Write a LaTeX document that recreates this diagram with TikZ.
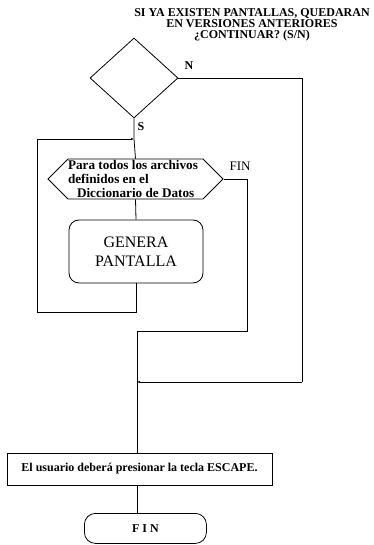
\documentclass[tikz,border=0pt]{standalone}
\usepackage{fontspec}
\setmainfont{Liberation Serif}
\usetikzlibrary{shapes.geometric,shapes.symbols,arrows.meta}
\begin{document}
\begin{tikzpicture}[x=1pt,y=-1pt,
  line/.style={line width=0.8pt,black},
  joinarrow/.style={line width=0.8pt,-{Latex[length=3pt,width=2.5pt]}},
  lbl/.style={font=\bfseries\fontsize{12}{12}\selectfont,inner sep=0pt},
  loopbox/.style={draw,line width=0.8pt,signal,signal to=west and east,signal pointer angle=90,
     minimum width=175pt,minimum height=40pt,inner sep=0pt},
  procbox/.style={draw,line width=0.8pt,rounded corners=10pt,minimum width=134pt,minimum height=63pt,
     align=center,font=\fontsize{16}{19}\selectfont},
  actbox/.style={draw,line width=0.8pt,minimum width=265pt,minimum height=32pt,inner sep=0pt,
     font=\bfseries\fontsize{12}{12}\selectfont},
  endbox/.style={draw,line width=0.8pt,rounded corners=11pt,minimum width=122pt,minimum height=30pt,inner sep=0pt,
     font=\bfseries\fontsize{12}{12}\selectfont}]
\useasboundingbox (0,0) rectangle (373,545);
% question
\node[font=\bfseries\fontsize{12}{11}\selectfont,align=center,inner sep=0pt] (q) at (252,25)
  {SI YA EXISTEN PANTALLAS, QUEDARAN\\EN VERSIONES ANTERIORES\\¿CONTINUAR? (S/N)};
\node[draw,line width=0.8pt,diamond,minimum width=88pt,minimum height=80pt,inner sep=0pt] (d) at (134,78) {};
\node[lbl] (nlab) at (189,66) {N};
\node[lbl] (slab) at (141,127) {S};
% loop
\coordinate (top) at (134,139);
\node[loopbox] (loop) at (135.5,179) {};
\node[align=left,font=\bfseries\fontsize{13.2}{14}\selectfont,inner sep=0pt] (looptxt) at (133,179)
  {Para todos los archivos\\definidos en el\\\hspace{9pt}Diccionario de Datos};
\node[font=\fontsize{13}{13}\selectfont,inner sep=0pt] (finlab) at (240,166) {FIN};
\node[procbox] (gen) at (136,251.5) {GENERA\\PANTALLA};
\coordinate (lb) at (37,312);
\coordinate (lt) at (37,139);
% exits
\coordinate (f1) at (247,179);
\coordinate (f2) at (247,331);
\coordinate (f3) at (137,331);
\coordinate (n1) at (302,78);
\coordinate (n2) at (302,382);
\coordinate (n3) at (137,382);
\node[actbox] (esc) at (139.5,469) {El usuario deberá presionar la tecla ESCAPE.};
\node[endbox,anchor=north west] (fin) at (84,513) {F I N};
\coordinate (e1) at (137,485);
\coordinate (e2) at (137,513);
% connectors
\draw[line] (d.south) -- (top) -- (loop.north);
\draw[line] (loop.south) -- (gen.north);
\draw[joinarrow] (gen.south) |- (lb) -- (lt) -- (top);
\draw[line] (loop.east) -- (f1) -- (f2) -- (f3);
\draw[line] (d.east) -- (n1) -- (n2);
\draw[joinarrow] (n2) -- (n3);
\draw[line] (f3) -- (esc.north -| f3);
\draw[line] (esc.south -| e1) -- (fin.north -| e2);
\end{tikzpicture}
\end{document}
